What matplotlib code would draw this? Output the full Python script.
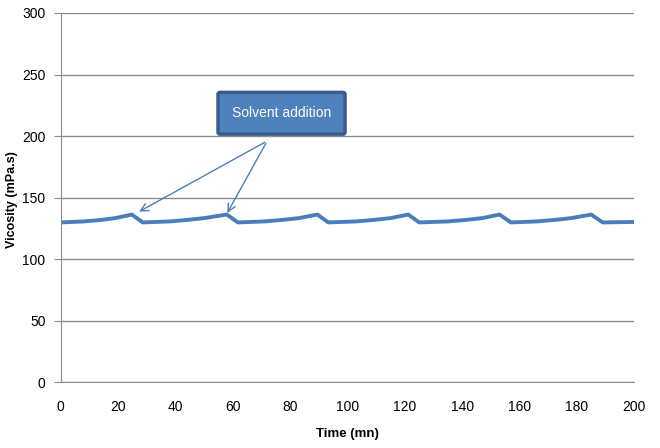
import matplotlib
matplotlib.use("Agg")
from matplotlib import pyplot as plt

plt.rcParams['font.family'] = ['Liberation Sans', 'DejaVu Sans']

# Datos
tiempo = [0, 8, 14, 19, 24.8, 28.6,
          38, 44, 50, 57.9, 61.8,
          71, 77, 83, 89.5, 93.3,
          103, 109, 115, 121.2, 125,
          135, 141, 147, 153, 157,
          166, 172, 178, 185, 189, 200]
viscosidad = [129.8, 130.6, 131.8, 133.3, 136.2, 129.8,
              130.6, 131.8, 133.3, 136.2, 129.8,
              130.6, 131.8, 133.3, 136.2, 129.8,
              130.6, 131.8, 133.3, 136.2, 129.8,
              130.6, 131.8, 133.3, 136.2, 129.8,
              130.6, 131.8, 133.3, 136.2, 129.8, 130.2]
xticks = list(range(0, 201, 20))
yticks = list(range(0, 301, 50))
etiqueta = 'Solvent addition'
flechas = [(26.5, 137.5), (57.6, 135.5)]

fig = plt.figure(figsize=(6.6, 4.48), dpi=100)
ax = fig.add_axes([0.092, 0.147, 0.869, 0.824])
ax.plot(tiempo, viscosidad, color='#4A7EBB', lw=2.8, solid_joinstyle='round')
ax.set_xlim(0, 200)
ax.set_ylim(0, 300)
ax.set_xticks(xticks)
ax.set_yticks(yticks)
ax.yaxis.grid(True, color='#8C8C8C', lw=1)
ax.set_axisbelow(True)
for s in ['top', 'right']:
    ax.spines[s].set_visible(False)
for s in ['left', 'bottom']:
    ax.spines[s].set_color('#8C8C8C')
ax.tick_params(axis='y', length=5, color='#8C8C8C', labelsize=10, pad=6)
ax.tick_params(axis='x', length=0, labelsize=10, pad=13)
ax.set_xlabel('Time (mn)', fontsize=9.5, fontweight='bold', labelpad=10)
ax.set_ylabel('Vicosity (mPa.s)', fontsize=9, fontweight='bold')
ax.yaxis.set_label_coords(-0.075, 0.495)

for fx, fy in flechas:
    ax.annotate('', xy=(fx, fy), xytext=(72, 196),
                arrowprops=dict(arrowstyle='->', color='#4A7EBB', lw=1,
                                mutation_scale=14))
ax.text(77, 218.5, etiqueta, ha='center', va='center', color='white',
        fontsize=10,
        bbox=dict(boxstyle='round,pad=1.0,rounding_size=0.15',
                  fc='#4F81BD', ec='#385D8A', lw=2.5))

fig.savefig('out.png', dpi=100)
